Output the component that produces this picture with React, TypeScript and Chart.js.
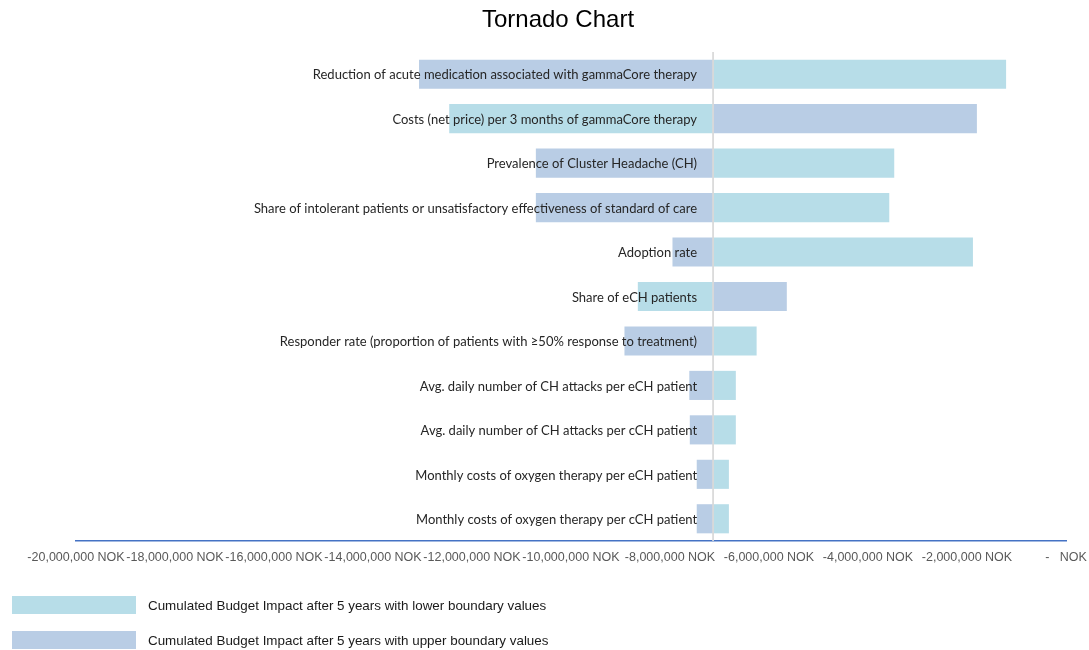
import React, { useEffect, useRef } from "react";
import { Chart, registerables } from "chart.js";

Chart.register(...registerables);

// Sensitivity parameters, top to bottom
const CATEGORIES = [
  "Reduction of acute medication associated with gammaCore therapy",
  "Costs (net price) per 3 months of gammaCore therapy",
  "Prevalence of Cluster Headache (CH)",
  "Share of intolerant patients or unsatisfactory effectiveness of standard of care",
  "Adoption rate",
  "Share of eCH patients",
  "Responder rate (proportion of patients with \u226550% response to treatment)",
  "Avg. daily number of CH attacks per eCH patient",
  "Avg. daily number of CH attacks per cCH patient",
  "Monthly costs of oxygen therapy per eCH patient",
  "Monthly costs of oxygen therapy per cCH patient",
];

// Cumulated budget impact (NOK) after 5 years
const BASE_CASE = -7130000;
const LOWER_BOUNDARY = [
  -1210000, -12460000, -3470000, -3570000, -1880000, -8650000, -6250000,
  -6670000, -6670000, -6810000, -6810000,
];
const UPPER_BOUNDARY = [
  -13070000, -1800000, -10710000, -10710000, -7950000, -5640000, -8920000,
  -7610000, -7600000, -7460000, -7460000,
];

const SERIES_NAMES = [
  "Cumulated Budget Impact after 5 years with lower boundary values",
  "Cumulated Budget Impact after 5 years with upper boundary values",
];
const SERIES_COLORS = ["#b7dde8", "#b9cde5"];

const AXIS_MIN = -20000000;
const AXIS_MAX = 0;
const AXIS_STEP = 2000000;

const TITLE = "Tornado Chart";

function formatNok(v: number): string {
  if (v === 0) return "-   NOK";
  const abs = Math.abs(Math.round(v)).toString().replace(/\B(?=(\d{3})+(?!\d))/g, ",");
  return (v < 0 ? "-" : "") + abs + " NOK";
}

const overlayPlugin = {
  id: "tornadoOverlay",
  afterDatasetsDraw(chart: any) {
    const { ctx, chartArea, scales } = chart;
    const x = scales.x;
    const y = scales.y;
    const baseX = x.getPixelForValue(BASE_CASE);

    ctx.save();
    // vertical axis at the base case
    ctx.strokeStyle = "#d9d9d9";
    ctx.lineWidth = 1.75;
    ctx.beginPath();
    ctx.moveTo(baseX, chartArea.top);
    ctx.lineTo(baseX, chartArea.bottom);
    ctx.stroke();

    // category labels next to the vertical axis
    ctx.font = "13px Lato";
    ctx.fillStyle = "#262626";
    ctx.textAlign = "right";
    ctx.textBaseline = "middle";
    CATEGORIES.forEach((label, i) => {
      ctx.fillText(label, baseX - 16, y.getPixelForValue(i) + 1);
    });

    // title
    ctx.font = "24px 'Liberation Sans', Arial, sans-serif";
    ctx.fillStyle = "#000000";
    ctx.textAlign = "center";
    ctx.fillText(TITLE, 558, 20);
    ctx.restore();
  },
};

export default function App() {
  const canvasRef = useRef<HTMLCanvasElement | null>(null);

  useEffect(() => {
    if (!canvasRef.current) return;
    const chart = new Chart(canvasRef.current, {
      type: "bar",
      data: {
        labels: CATEGORIES,
        datasets: [
          {
            label: SERIES_NAMES[0],
            data: LOWER_BOUNDARY.map((v) => [BASE_CASE, v]) as any,
            backgroundColor: SERIES_COLORS[0],
            grouped: false,
            barPercentage: 0.655,
            categoryPercentage: 1,
          },
          {
            label: SERIES_NAMES[1],
            data: UPPER_BOUNDARY.map((v) => [BASE_CASE, v]) as any,
            backgroundColor: SERIES_COLORS[1],
            grouped: false,
            barPercentage: 0.655,
            categoryPercentage: 1,
          },
        ],
      },
      options: {
        indexAxis: "y",
        responsive: false,
        animation: false,
        layout: { padding: { left: 76, right: 23, top: 52, bottom: 79 } },
        plugins: {
          legend: { display: false },
          title: { display: false },
          tooltip: { enabled: false },
        },
        scales: {
          x: {
            type: "linear",
            min: AXIS_MIN,
            max: AXIS_MAX,
            grid: { display: false, drawTicks: false },
            border: { display: true, color: "#4472c4", width: 1.5 },
            afterFit: (s: any) => {
              s.height = 30;
              s.paddingLeft = 0;
              s.paddingRight = 0;
            },
            ticks: {
              stepSize: AXIS_STEP,
              padding: 9,
              maxRotation: 0,
              autoSkip: false,
              color: "#595959",
              font: { family: "'Liberation Sans', Arial, sans-serif", size: 12.5 },
              callback: (v: any) => formatNok(Number(v)),
            },
          },
          y: {
            type: "category",
            display: false,
            offset: true,
          },
        },
      } as any,
      plugins: [overlayPlugin],
    });
    return () => chart.destroy();
  }, []);

  const legendRow = (i: number, top: number) => (
    <div
      key={i}
      style={{
        position: "absolute",
        left: 12,
        top,
        display: "flex",
        alignItems: "center",
        height: 18,
      }}
    >
      <div style={{ width: 124, height: 18, background: SERIES_COLORS[i] }} />
      <span
        style={{
          marginLeft: 12,
          fontFamily: "'Liberation Sans', Arial, sans-serif",
          fontSize: 13.4,
          color: "#1a1a1a",
          whiteSpace: "nowrap",
        }}
      >
        {SERIES_NAMES[i]}
      </span>
    </div>
  );

  return (
    <div style={{ position: "absolute", left: 0, top: 0, width: 1089, height: 650, background: "#fff" }}>
      <canvas ref={canvasRef} width={1089} height={650} style={{ display: "block" }} />
      {legendRow(0, 596)}
      {legendRow(1, 631)}
    </div>
  );
}
